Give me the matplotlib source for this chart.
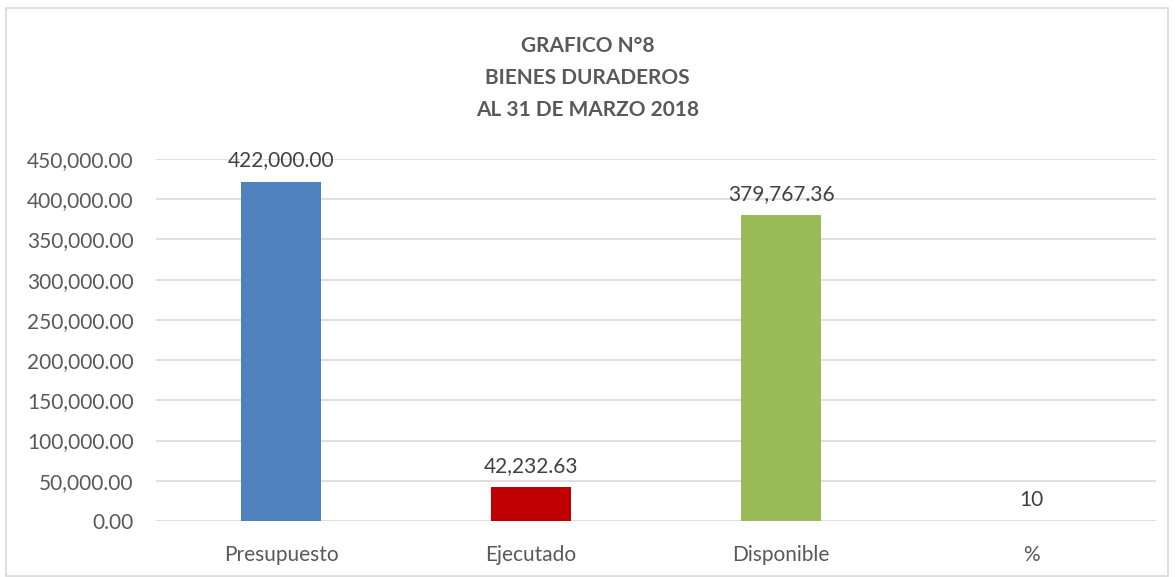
import matplotlib.pyplot as plt
from matplotlib.patches import Rectangle
from matplotlib.ticker import FuncFormatter

categorias = ["Presupuesto", "Ejecutado", "Disponible", "%"]
valores = [422000.00, 42232.63, 379767.36, 10]
etiquetas = ["422,000.00", "42,232.63", "379,767.36", "10"]
colores = ["#4F81BD", "#C00000", "#9BBB59", "#4F81BD"]
titulo = "GRAFICO N°8\nBIENES DURADEROS\nAL 31 DE MARZO 2018"

plt.rcParams['font.family'] = ['Lato', 'DejaVu Sans']

fig = plt.figure(figsize=(11.75, 5.77), dpi=100)
# marco del gráfico
fig.patches.append(Rectangle((6 / 1175, 0.002), 1162 / 1175, 1 - 8 / 577 - 0.002,
                             transform=fig.transFigure, fill=False,
                             edgecolor="#D9D9D9", linewidth=1.2))

ax = fig.add_axes([156 / 1175, 1 - 521 / 577, 1000 / 1175, (521 - 159) / 577])
x = range(len(categorias))
ax.bar(x, valores, width=0.32, color=colores, zorder=3)

for i, (v, t) in enumerate(zip(valores, etiquetas)):
    ax.annotate(t, (i, v), xytext=(0, 8), textcoords="offset points",
                ha="center", va="bottom", fontsize=15, color="#404040")

ax.set_xlim(-0.5, 3.5)
ax.set_ylim(0, 450000)
ax.set_yticks(range(0, 450001, 50000))
ax.yaxis.set_major_formatter(FuncFormatter(lambda v, p: f"{v:,.2f}"))
ax.set_xticks(list(x))
ax.set_xticklabels(categorias)
ax.tick_params(axis="both", length=0, labelsize=15, labelcolor="#595959")
ax.tick_params(axis="x", pad=17)
ax.tick_params(axis="y", pad=16)
ax.grid(axis="y", color="#D9D9D9", linewidth=1.2, zorder=0)
for s in ax.spines.values():
    s.set_visible(False)

fig.text(0.5, 1 - 78 / 577, titulo, ha="center", va="center", fontsize=15,
         fontweight="bold", color="#595959", linespacing=1.78)

fig.savefig("out.png", dpi=100)
